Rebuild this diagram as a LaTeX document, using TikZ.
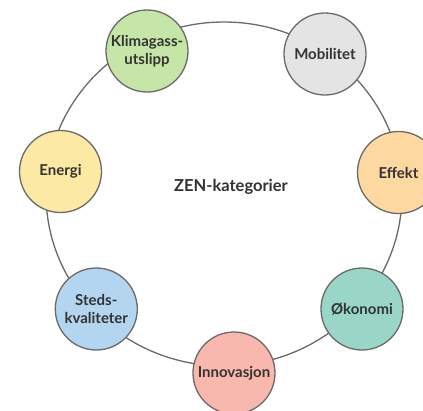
\documentclass[tikz,border=0pt]{standalone}
\usepackage{fontspec}
\setmainfont{Lato}
\begin{document}
\begin{tikzpicture}[x=1pt,y=-1pt,
  cat/.style={circle,draw=ringgray,line width=1.3pt,minimum size=82pt,inner sep=0pt,
    align=center,font=\fontsize{15}{17.5}\selectfont\bfseries,text=txt},
  ring/.style={draw=ringgray,line width=1.3pt}]
\definecolor{ringgray}{HTML}{6A6A6A}
\definecolor{txt}{HTML}{333333}
\definecolor{cgreen}{HTML}{C6E6A8}
\definecolor{cgray}{HTML}{E4E4E4}
\definecolor{cyellow}{HTML}{FCE9A3}
\definecolor{cpeach}{HTML}{FDD8A0}
\definecolor{cteal}{HTML}{9AD6C8}
\definecolor{csalmon}{HTML}{F9B8AE}
\definecolor{cblue}{HTML}{B3D5EF}
\useasboundingbox (0,0) rectangle (423,410);
\clip (0,0) rectangle (423,410);
\fill[white] (0,0) rectangle (423,410);
\coordinate (c) at (224,194);
\draw[ring] (c) ellipse [x radius=178, y radius=172];
\node[font=\fontsize{16.5}{19}\selectfont\bfseries,text=txt] (title) at (231,187) {ZEN-kategorier};
\node[cat,fill=cgreen] (klima) at (147,51) {Klimagass-\\utslipp};
\node[cat,fill=cgray] (mob) at (325,54) {Mobilitet};
\node[cat,fill=cyellow] (energi) at (60.5,171.5) {Energi};
\node[cat,fill=cpeach] (effekt) at (398.5,172.5) {Effekt};
\node[cat,fill=cteal] (okon) at (362,309) {Økonomi};
\node[cat,fill=csalmon] (innov) at (234,373) {Innovasjon};
\node[cat,fill=cblue] (steds) at (96.3,309) {Steds-\\kvaliteter};
\end{tikzpicture}
\end{document}
